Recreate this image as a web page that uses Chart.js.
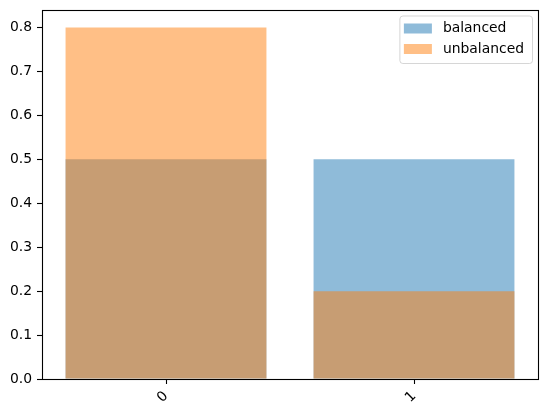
<!DOCTYPE html>
<html>
<head>
<meta charset="utf-8">
<script src="https://cdn.jsdelivr.net/npm/chart.js@4/dist/chart.umd.min.js"></script>
<style>
  html, body { margin: 0; padding: 0; background: #fff; }
  #wrap { width: 547px; height: 415px; }
</style>
</head>
<body>
<div id="wrap"><canvas id="BarChart"></canvas></div>
<script>
const categories = ['0', '1'];
const balanced = [0.5, 0.5];
const unbalanced = [0.8, 0.2];
const yTicks = [0, 0.1, 0.2, 0.3, 0.4, 0.5, 0.6, 0.7, 0.8];

const FONT = 'DejaVu Sans';
const FS = 13.9;

Chart.defaults.color = '#000';
Chart.defaults.font.family = FONT;
Chart.defaults.font.size = FS;

// axes frame on all four sides, like matplotlib spines
const framePlugin = {
  id: 'frame',
  afterDatasetsDraw: (chart) => {
    const ca = chart.chartArea, ctx = chart.ctx;
    ctx.save();
    ctx.strokeStyle = '#000';
    ctx.lineWidth = 1.1;
    ctx.strokeRect(Math.round(ca.left) + 0.5, Math.round(ca.top) + 0.5,
      Math.round(ca.right - ca.left), Math.round(ca.bottom - ca.top));
    ctx.restore();
  }
};

// legend box inside the upper right corner
const insideLegend = {
  id: 'insideLegend',
  afterDraw: (chart) => {
    const ca = chart.chartArea, ctx = chart.ctx;
    const sets = chart.data.datasets;
    ctx.save();
    ctx.font = FS + 'px ' + FONT;
    let textW = 0;
    sets.forEach(d => { textW = Math.max(textW, ctx.measureText(d.label).width); });
    const rowH = 20.5, handleW = 28, handleH = 10;
    const right = ca.right - 6;
    const left = right - (4.5 + handleW + 11 + textW + 8);
    const top = ca.top + 5.5;
    const height = 6 + rowH * sets.length + 0.5;
    ctx.beginPath();
    ctx.roundRect(left + 0.5, top + 0.5, right - left, height, 3);
    ctx.fillStyle = 'rgba(255,255,255,0.8)';
    ctx.fill();
    ctx.strokeStyle = 'rgba(204,204,204,0.8)';
    ctx.lineWidth = 1;
    ctx.stroke();
    ctx.textBaseline = 'middle';
    sets.forEach((d, i) => {
      const cy = top + 13 + i * rowH;
      ctx.fillStyle = d.backgroundColor;
      ctx.fillRect(left + 4.5, cy - handleH / 2, handleW, handleH);
      ctx.fillStyle = '#000';
      ctx.fillText(d.label, left + 4.5 + handleW + 11, cy);
    });
    ctx.restore();
  }
};

const ctx = document.getElementById('BarChart').getContext('2d');
const chart = new Chart(ctx, {
  type: 'bar',
  data: {
    labels: categories,
    datasets: [
      {
        label: 'balanced',
        data: balanced,
        backgroundColor: 'rgba(31,119,180,0.5)',
        order: 1
      },
      {
        label: 'unbalanced',
        data: unbalanced,
        backgroundColor: 'rgba(255,127,14,0.5)',
        order: 0
      }
    ]
  },
  options: {
    responsive: true,
    maintainAspectRatio: false,
    animation: false,
    layout: { padding: { top: 10, right: 9, left: 0, bottom: 0 } },
    datasets: {
      bar: { grouped: false, barPercentage: 1, categoryPercentage: 0.81 }
    },
    plugins: {
      legend: { display: false },
      tooltip: { enabled: false }
    },
    scales: {
      x: {
        grid: { offset: false, drawOnChartArea: false, tickLength: 5, tickColor: '#000', tickWidth: 1.1 },
        border: { display: false },
        ticks: { minRotation: 45, maxRotation: 45, padding: 4 },
        afterFit: (scale) => {
          scale.height = 36;
          scale.paddingLeft = 0;
          scale.paddingRight = 0;
        }
      },
      y: {
        min: 0,
        max: 0.84,
        grid: { drawOnChartArea: false, tickLength: 5, tickColor: '#000', tickWidth: 1.1 },
        border: { display: false },
        ticks: { padding: 5, callback: (v) => v.toFixed(1) },
        afterBuildTicks: (scale) => { scale.ticks = yTicks.map(v => ({ value: v })); },
        afterFit: (scale) => {
          scale.width = 42;
          scale.paddingTop = 0;
          scale.paddingBottom = 0;
        }
      }
    }
  },
  plugins: [framePlugin, insideLegend]
});
</script>
</body>
</html>
